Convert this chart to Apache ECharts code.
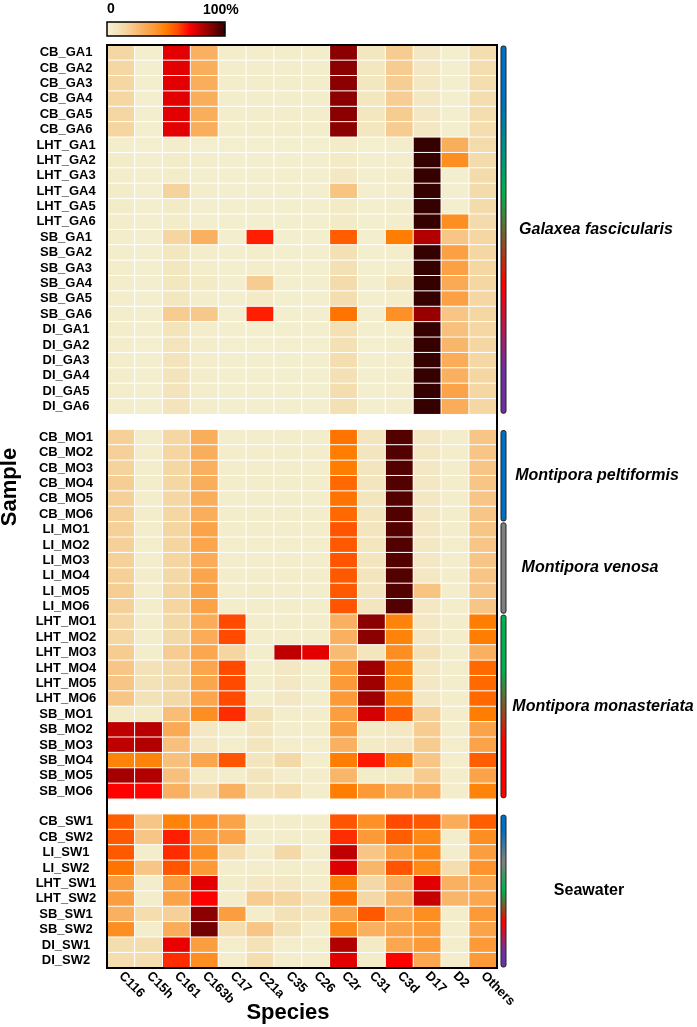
<!DOCTYPE html>
<html><head><meta charset="utf-8">
<script src="https://cdn.jsdelivr.net/npm/echarts@6/dist/echarts.min.js"></script>
<style>html,body{margin:0;padding:0;background:#fff}#c{width:697px;height:1027px}</style>
</head><body><div id="c"></div>
<script>
const species = ['C116','C15h','C161','C163b','C17','C21a','C35','C26','C2r','C31','C3d','D17','D2','Others'];

const gaSamples = ['CB_GA1','CB_GA2','CB_GA3','CB_GA4','CB_GA5','CB_GA6',
  'LHT_GA1','LHT_GA2','LHT_GA3','LHT_GA4','LHT_GA5','LHT_GA6',
  'SB_GA1','SB_GA2','SB_GA3','SB_GA4','SB_GA5','SB_GA6',
  'DI_GA1','DI_GA2','DI_GA3','DI_GA4','DI_GA5','DI_GA6'];
const gaValues = [
  [15,2,74,30,3,3,3,3,87,7,20,6,2,12],
  [15,2,74,31,3,3,3,3,87,7,20,6,2,12],
  [15,2,74,31,3,3,3,3,87,7,19,6,2,12],
  [15,2,74,31,3,3,3,3,87,7,19,6,2,12],
  [15,2,74,31,3,3,3,3,87,7,20,6,2,12],
  [16,2,74,31,3,3,3,3,87,7,20,6,2,12],
  [3,2,3,2,2,2,2,2,4,2,3,99,31,13],
  [4,2,4,3,2,2,2,2,5,2,3,99,44,13],
  [3,2,4,2,2,2,2,2,6,2,3,99,2,13],
  [4,2,17,3,2,2,2,2,23,2,3,99,2,13],
  [4,2,5,2,2,2,2,2,5,2,3,99,2,13],
  [3,2,4,2,2,2,2,2,5,2,3,99,44,13],
  [3,2,16,30,2,66,2,2,56,2,50,81,22,15],
  [3,2,7,3,2,3,2,2,11,2,3,99,37,15],
  [3,2,7,3,2,3,2,2,11,2,3,99,37,15],
  [3,2,7,5,2,20,2,2,13,2,9,99,33,15],
  [3,2,7,3,2,5,2,2,12,2,3,99,37,15],
  [3,2,20,21,2,66,2,2,52,2,43,85,22,15],
  [3,2,9,3,2,2,2,2,11,2,3,99,24,15],
  [3,2,9,3,2,2,2,2,11,2,3,99,28,15],
  [3,2,9,3,2,2,2,2,12,2,3,99,32,15],
  [3,2,9,3,2,2,2,2,11,2,3,99,30,15],
  [3,2,9,3,2,2,2,2,12,2,3,99,36,15],
  [3,2,9,3,2,2,2,2,11,2,3,99,32,15]
];

const moSamples = ['CB_MO1','CB_MO2','CB_MO3','CB_MO4','CB_MO5','CB_MO6',
  'LI_MO1','LI_MO2','LI_MO3','LI_MO4','LI_MO5','LI_MO6',
  'LHT_MO1','LHT_MO2','LHT_MO3','LHT_MO4','LHT_MO5','LHT_MO6',
  'SB_MO1','SB_MO2','SB_MO3','SB_MO4','SB_MO5','SB_MO6'];
const moValues = [
  [18,3,15,31,3,3,3,3,52,8,95,6,3,22],
  [18,3,16,31,3,3,3,3,50,8,95,6,3,22],
  [17,3,15,30,3,3,3,3,50,8,95,6,3,22],
  [19,3,15,31,3,3,3,3,54,8,95,6,3,22],
  [18,3,15,31,3,3,3,3,52,8,95,6,3,22],
  [18,3,15,31,3,3,3,3,54,8,95,6,3,22],
  [18,3,16,36,3,3,3,3,58,8,95,6,3,22],
  [18,3,16,35,3,3,3,3,57,8,95,6,3,22],
  [18,3,16,32,3,3,3,3,58,8,95,6,3,22],
  [18,3,14,35,3,3,3,3,57,8,95,6,3,22],
  [19,3,16,36,3,4,3,3,57,8,95,23,3,22],
  [18,3,16,36,3,3,3,3,58,8,95,6,3,22],
  [15,3,14,32,60,3,3,3,30,87,48,6,3,50],
  [15,3,14,32,60,3,3,3,30,87,48,6,3,50],
  [20,3,20,34,16,3,79,74,26,8,44,10,3,30],
  [22,10,14,35,60,3,6,3,40,84,48,6,3,54],
  [22,10,14,35,60,3,6,3,40,84,48,6,3,54],
  [22,10,14,35,60,3,6,3,40,84,48,6,3,54],
  [5,5,25,44,64,10,3,3,38,76,56,18,3,50],
  [79,80,33,6,3,8,3,3,38,5,6,20,3,36],
  [79,81,24,6,3,8,3,3,30,5,6,20,3,36],
  [48,48,24,35,58,8,14,3,50,67,48,22,3,56],
  [83,81,24,5,3,8,3,3,28,4,5,20,3,36],
  [70,69,30,14,30,10,12,3,50,40,32,32,3,48]
];

const swSamples = ['CB_SW1','CB_SW2','LI_SW1','LI_SW2','LHT_SW1','LHT_SW2','SB_SW1','SB_SW2','DI_SW1','DI_SW2'];
const swValues = [
  [56,22,48,43,36,3,3,3,58,43,60,57,32,56],
  [57,22,66,38,36,3,3,3,64,40,56,46,3,44],
  [57,3,64,44,12,3,14,3,79,22,38,46,3,38],
  [52,22,58,40,3,3,3,3,75,28,58,46,12,42],
  [38,3,38,74,4,6,6,3,48,14,30,74,30,34],
  [38,3,36,70,3,20,16,10,52,14,30,78,28,34],
  [30,12,18,87,38,3,10,8,36,57,34,44,3,40],
  [44,3,32,91,12,22,10,3,46,30,36,40,3,36],
  [12,12,73,38,3,10,3,3,81,5,34,40,3,40],
  [12,12,64,44,3,12,3,3,74,4,70,34,3,40]
];

const scaleLabels = ['0','100%'];
const groupNames = [
  {from:'CB_GA1', to:'DI_GA6', text:'Galaxea fascicularis', italic:true},
  {from:'CB_MO1', to:'CB_MO6', text:'Montipora peltiformis', italic:true},
  {from:'LI_MO1', to:'LI_MO6', text:'Montipora venosa', italic:true},
  {from:'LHT_MO1', to:'SB_MO6', text:'Montipora monasteriata', italic:true},
  {from:'CB_SW1', to:'DI_SW2', text:'Seawater', italic:false}
];
const bandRanges = [
  {from:'CB_GA1', to:'DI_GA6', style:'ga'},
  {from:'CB_MO1', to:'CB_MO6', style:'blue'},
  {from:'LI_MO1', to:'LI_MO6', style:'grey'},
  {from:'LHT_MO1', to:'SB_MO6', style:'gr'},
  {from:'CB_SW1', to:'DI_SW2', style:'sw'}
];

// ---- styles ----
const labelCenters = [596, 597, 590, 603, 589];
const BLUE='#0070C0', GREEN='#00B050', RED='#FF0000', PURPLE='#7030A0', GREY='#7F7F7F';
const bandStyles = {
  ga: [[0,BLUE],[0.15,BLUE],[0.4,GREEN],[0.65,RED],[0.88,PURPLE],[1,PURPLE]],
  blue: [[0,BLUE],[1,BLUE]],
  grey: [[0,GREY],[1,GREY]],
  gr: [[0,GREEN],[0.3,GREEN],[0.7,RED],[1,RED]],
  sw: [[0,BLUE],[0.1,BLUE],[0.3,GREY],[0.5,GREEN],[0.7,RED],[0.9,PURPLE],[1,PURPLE]]
};
const FONT = '"Liberation Sans", Arial, sans-serif';

const yCats = gaSamples.concat([''], moSamples, [' '], swSamples);
const data = [];
function addGroup(samples, values){
  samples.forEach((s, r) => {
    const yi = yCats.indexOf(s);
    values[r].forEach((v, c) => data.push([c, yi, v]));
  });
}
addGroup(gaSamples, gaValues);
addGroup(moSamples, moValues);
addGroup(swSamples, swValues);

const chart = echarts.init(document.getElementById('c'), null, {renderer:'canvas'});
const option = {
  animation:false,
  backgroundColor:'#fff',
  grid:{left:107, right:200, top:45, bottom:59, show:false},
  xAxis:{type:'category', data:species, axisLine:{show:false}, axisTick:{show:false}, splitLine:{show:false},
    axisLabel:{rotate:-45, margin:6, color:'#000', fontWeight:'bold', fontSize:13, fontFamily:FONT, interval:0}},
  yAxis:{type:'category', data:yCats, inverse:true, axisLine:{show:false}, axisTick:{show:false}, splitLine:{show:false},
    axisLabel:{color:'#000', fontWeight:'bold', fontSize:13, fontFamily:FONT, interval:0, align:'center', margin:41}},
  visualMap:{type:'continuous', min:0, max:100, orient:'horizontal', left:107, top:22, padding:0,
    itemWidth:14, itemHeight:118, calculable:false, showLabel:false, text:null,
    inRange:{color:['#F3F2D3','#F3E2B8','#F6CC90','#F9B060','#FC9A38','#FF7D00','#FF4A00','#FF0000','#B80000','#780000','#2E0000']}},
  series:[{type:'heatmap', data:data, itemStyle:{borderColor:'#fff', borderWidth:1}, emphasis:{disabled:true}}]
};
chart.setOption(option);

const yPix = i => chart.convertToPixel({yAxisIndex:0}, i);
const xPix = i => chart.convertToPixel({xAxisIndex:0}, i);
const bandH = yPix(1) - yPix(0);
const bandW = xPix(1) - xPix(0);
const gLeft = xPix(0) - bandW/2, gRight = xPix(species.length-1) + bandW/2;
const gTop = yPix(0) - bandH/2, gBottom = yPix(yCats.length-1) + bandH/2;

const graphics = [];
graphics.push({type:'rect', shape:{x:gLeft, y:gTop, width:gRight-gLeft, height:gBottom-gTop},
  style:{fill:'none', stroke:'#000', lineWidth:2}, z:100});
bandRanges.forEach(b => {
  const y0 = yPix(yCats.indexOf(b.from)) - bandH/2 + 1;
  const y1 = yPix(yCats.indexOf(b.to)) + bandH/2 - 1;
  graphics.push({type:'rect', shape:{x:gRight+4, y:y0, width:5, height:y1-y0, r:2},
    style:{fill:{type:'linear', x:0, y:0, x2:0, y2:1, colorStops:bandStyles[b.style].map(s=>({offset:s[0], color:s[1]}))},
      stroke:'#222', lineWidth:1}, z:100});
});
groupNames.forEach((g, i) => {
  const yc = (yPix(yCats.indexOf(g.from)) + yPix(yCats.indexOf(g.to))) / 2;
  graphics.push({type:'text', x:labelCenters[i], y:yc, style:{text:g.text, fill:'#000', font:(g.italic?'italic ':'')+'bold 16px '+FONT,
    textAlign:'center', textVerticalAlign:'middle'}, z:100});
});
// colour bar frame and labels
graphics.push({type:'rect', shape:{x:107, y:22, width:118, height:14}, style:{fill:'none', stroke:'#000', lineWidth:1.5}, z:100});
graphics.push({type:'text', x:107, y:9, style:{text:scaleLabels[0], fill:'#000', font:'bold 14px '+FONT, textAlign:'left', textVerticalAlign:'middle'}, z:100});
graphics.push({type:'text', x:203, y:10, style:{text:scaleLabels[1], fill:'#000', font:'bold 14px '+FONT, textAlign:'left', textVerticalAlign:'middle'}, z:100});
// axis titles
graphics.push({type:'text', x:10, y:487, rotation:Math.PI/2, style:{text:'Sample', fill:'#000', font:'bold 22px '+FONT, textAlign:'center', textVerticalAlign:'middle'}, z:100});
graphics.push({type:'text', x:288, y:1013, style:{text:'Species', fill:'#000', font:'bold 22px '+FONT, textAlign:'center', textVerticalAlign:'middle'}, z:100});
chart.setOption({graphic:graphics});
</script>
</body></html>
